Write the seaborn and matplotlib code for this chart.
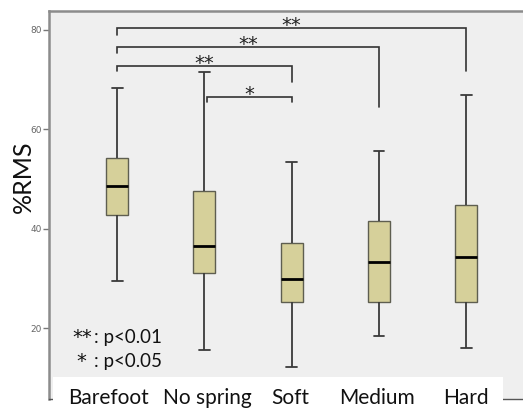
import numpy as np
import pandas as pd
import matplotlib
matplotlib.use("Agg")
import matplotlib.pyplot as plt
import matplotlib.patches as mpatches
import matplotlib.transforms as mtransforms
import seaborn as sns

# ---- data (five-number summaries) ----
categories = ["Barefoot", "No spring", "Soft", "Medium", "Hard"]
barefoot = [29.5, 42.8, 48.7, 54.3, 68.3]
no_spring = [15.7, 31.1, 36.5, 47.7, 71.6]
soft = [12.3, 25.3, 30.0, 37.1, 53.5]
medium = [18.5, 25.3, 33.4, 41.5, 55.7]
hard = [16.0, 25.3, 34.3, 44.8, 66.9]
yticks = [20, 40, 60, 80]
y_label = "%RMS"

# significance brackets
sig_pairs = [(0, 4), (0, 3), (0, 2), (1.03, 2)]
sig_heights = [80.3, 76.5, 72.8, 66.6]
sig_left_ends = [79.0, 75.4, 71.8, 65.6]
sig_right_ends = [71.8, 64.5, 69.6, 65.5]
sig_labels = ["**", "**", "**", "*"]
legend_stars = ["**", "*"]
legend_texts = [": p<0.01", ": p<0.05"]

groups = [barefoot, no_spring, soft, medium, hard]
df = pd.DataFrame({
    "group": np.repeat(categories, [len(g) for g in groups]),
    "value": np.concatenate(groups),
})

sns.set_theme(style="white")
plt.rcParams["font.family"] = ["Lato", "DejaVu Sans"]

W, H = 523, 409
fig = plt.figure(figsize=(W / 100, H / 100), dpi=100)
ax = fig.add_axes([49 / W, 1 - 399 / H, 481 / W, 388 / H])
ax.set_facecolor("#efefef")

sns.boxplot(
    data=df, x="group", y="value", order=categories, ax=ax,
    color="#d6d09a", saturation=1, width=0.25, whis=(0, 100),
    linecolor="#5e5e50", linewidth=1.0,
    medianprops=dict(color="black", linewidth=2.0),
    whiskerprops=dict(color="#3a3a3a", linewidth=1.3),
    capprops=dict(color="#3a3a3a", linewidth=1.3),
)

ax.set_xlim(-0.78, 4.73)
ax.set_ylim(5.8, 83.8)
ax.set_yticks(yticks)
ax.set_yticklabels([str(t) for t in yticks], fontsize=6.5, color="#666666",
                   family="DejaVu Sans")
ax.tick_params(axis="y", direction="out", length=4, width=1, color="#777777",
               pad=1, left=True)
ax.set_xticks([])
ax.set_xlabel("")
ax.set_ylabel("")

for side in ["left", "top"]:
    ax.spines[side].set_color("#8c8c8c")
    ax.spines[side].set_linewidth(1.8)
ax.spines["bottom"].set_color("#555555")
ax.spines["bottom"].set_linewidth(1.0)
ax.spines["right"].set_visible(False)

# brackets
for (x0, x1), h, l0, r0, lab in zip(sig_pairs, sig_heights, sig_left_ends,
                                    sig_right_ends, sig_labels):
    ax.plot([x0, x0, x1, x1], [l0, h, h, r0], color="#333333", lw=1.2,
            solid_joinstyle="miter", zorder=3)
    ax.text((x0 + x1) / 2, h - 0.6, lab, ha="center", va="baseline",
            fontsize=14, color="#222222", family="DejaVu Sans", zorder=4)

# p-value legend
legend_y = [338, 362]
star_right = [92, 86]
for stars, txt, yy, sx in zip(legend_stars, legend_texts, legend_y, star_right):
    ax.text(sx / W, 1 - yy / H, stars, transform=fig.transFigure,
            ha="right", va="center", fontsize=14, color="#111111",
            family="DejaVu Sans", zorder=6)
    ax.text(94 / W, 1 - yy / H, txt, transform=fig.transFigure,
            ha="left", va="center", fontsize=13.5, color="#111111", zorder=6)

# white label box with category names
rect = mpatches.Rectangle((53 / W, 0), 450 / W, (H - 377) / H,
                          transform=fig.transFigure, facecolor="white",
                          edgecolor="none", clip_on=False, zorder=5)
ax.add_patch(rect)
label_nudge = [-0.1, 0.03, -0.02, -0.02, 0.0]
trans = mtransforms.blended_transform_factory(ax.transData, fig.transFigure)
for i, c in enumerate(categories):
    ax.text(i + label_nudge[i], 1 - 398 / H, c, transform=trans,
            ha="center", va="center",
            fontsize=15, color="#111111", zorder=6, clip_on=False)

fig.text(23 / W, 1 - 177 / H, y_label, rotation=90, ha="center", va="center",
         fontsize=18, color="#111111")

fig.savefig("out.png", dpi=100)
